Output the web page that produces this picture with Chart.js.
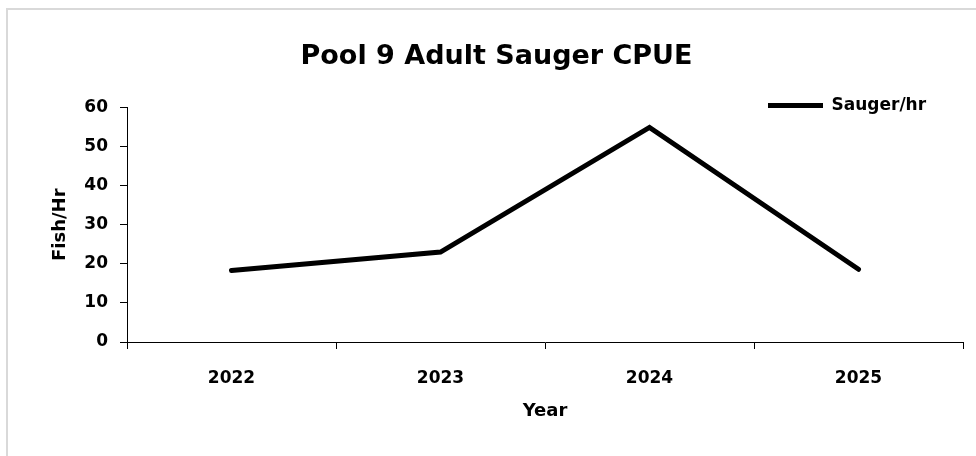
<!DOCTYPE html>
<html>
<head>
<meta charset="utf-8">
<script src="https://cdn.jsdelivr.net/npm/chart.js@4.4.1/dist/chart.umd.min.js"></script>
<style>
  html, body { margin: 0; padding: 0; background: #fff; }
  body { width: 976px; height: 456px; position: relative; overflow: hidden; }
  .frame { position: absolute; left: 6px; top: 8px; width: 1000px; height: 500px; border: 2px solid #d9d9d9; box-sizing: border-box; }
  .wrap { position: absolute; left: 0; top: 0; width: 976px; height: 456px; }
</style>
</head>
<body>
<div class="frame"></div>
<div class="wrap"><canvas id="cpueChart"></canvas></div>
<script>
const years = ['2022', '2023', '2024', '2025'];
const saugerPerHr = [18.3, 23.0, 54.9, 18.6];
const yMin = 0;
const yMax = 60;
const yStep = 10;

const FONT = "'DejaVu Sans', sans-serif";

// put the legend in the top right corner of the plot, like the Excel one
const legendNudge = {
  id: 'legendNudge',
  afterLayout(chart) {
    const lg = chart.legend;
    if (!lg) return;
    const w = lg.right - lg.left;
    const h = lg.bottom - lg.top;
    lg.left = 768;
    lg.right = lg.left + w;
    lg.top = 97;
    lg.bottom = lg.top + h;
  }
};

document.addEventListener('DOMContentLoaded', () => {
  const canvas = document.getElementById('cpueChart');
  new Chart(canvas, {
    type: 'line',
    data: {
      labels: years,
      datasets: [{
        label: 'Sauger/hr',
        data: saugerPerHr,
        borderColor: '#000',
        backgroundColor: '#000',
        borderWidth: 5,
        borderCapStyle: 'round',
        borderJoinStyle: 'miter',
        pointRadius: 0,
        pointHoverRadius: 0,
        tension: 0,
        fill: false
      }]
    },
    options: {
      responsive: true,
      maintainAspectRatio: false,
      animation: false,
      layout: { padding: { left: 30, right: 13, top: 20, bottom: 34 } },
      plugins: {
        title: {
          display: true,
          text: 'Pool 9 Adult Sauger CPUE',
          color: '#000',
          font: { family: FONT, size: 27, weight: 'bold' },
          padding: { top: 21, bottom: 34 }
        },
        legend: {
          display: true,
          position: 'chartArea',
          align: 'start',
          labels: {
            color: '#000',
            font: { family: FONT, size: 17, weight: 'bold' },
            usePointStyle: true,
            pointStyle: 'line',
            pointStyleWidth: 55,
            padding: 0
          }
        },
        tooltip: { enabled: false }
      },
      scales: {
        x: {
          offset: true,
          grid: {
            offset: true,
            drawOnChartArea: false,
            drawTicks: true,
            tickLength: 7,
            color: '#000'
          },
          border: { display: true, color: '#000', width: 1 },
          ticks: {
            color: '#000',
            padding: 19,
            font: { family: FONT, size: 17, weight: 'bold' }
          },
          title: {
            display: true,
            text: 'Year',
            color: '#000',
            font: { family: FONT, size: 18, weight: 'bold' },
            padding: { top: 7, bottom: 0 }
          },
          afterFit(scale) { scale.height = 80; }
        },
        y: {
          min: yMin,
          max: yMax,
          ticks: {
            stepSize: yStep,
            color: '#000',
            padding: 12,
            font: { family: FONT, size: 17, weight: 'bold' }
          },
          grid: {
            drawOnChartArea: false,
            drawTicks: true,
            tickLength: 7,
            color: '#000'
          },
          border: { display: true, color: '#000', width: 1 },
          title: {
            display: true,
            text: 'Fish/Hr',
            color: '#000',
            font: { family: FONT, size: 18, weight: 'bold' },
            padding: { top: 20, bottom: 0 }
          },
          afterFit(scale) { scale.width = 97; }
        }
      }
    },
    plugins: [legendNudge]
  });
});
</script>
</body>
</html>
